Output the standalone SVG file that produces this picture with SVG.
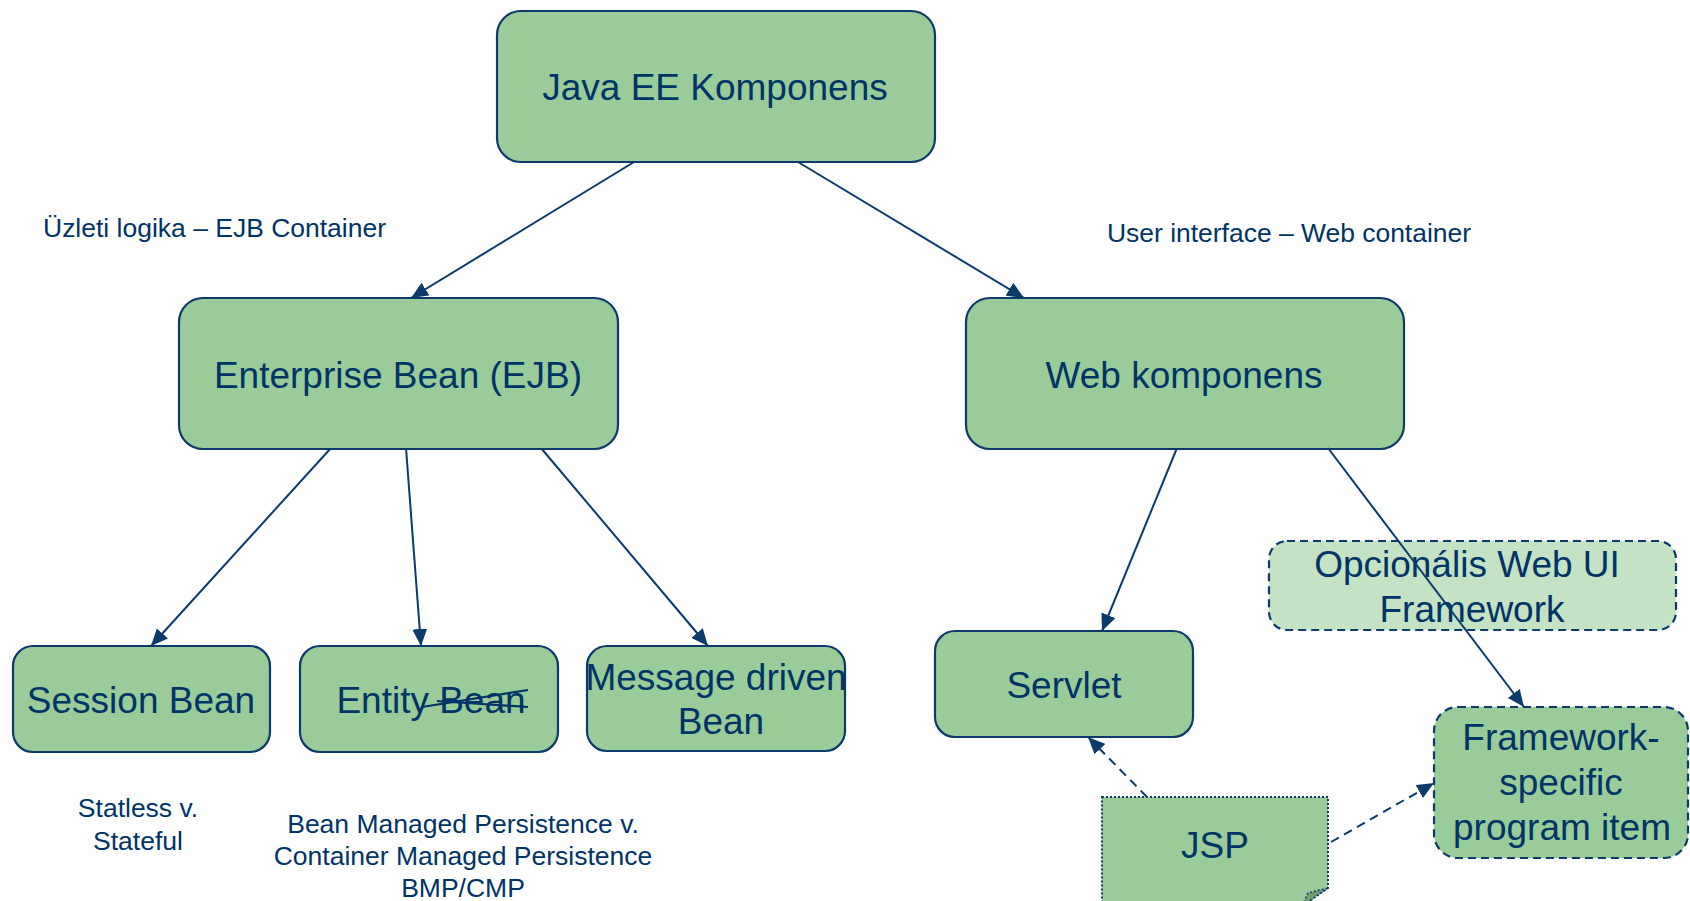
<svg xmlns="http://www.w3.org/2000/svg" width="1690" height="901" viewBox="0 0 1690 901">
<style>
.box{fill:#99CC99;stroke:#0B3A6B;stroke-width:2.2}
.opt{fill:#C4E2C4;stroke:#0B3A6B;stroke-width:2.2;stroke-dasharray:8 5}
.fw{fill:#99CC99;stroke:#0B3A6B;stroke-width:2.2;stroke-dasharray:8 5}
.note{fill:#99CC99;stroke:#0B3A6B;stroke-width:2;stroke-dasharray:2 2}
.big{font-family:"Liberation Sans",Arial,sans-serif;font-size:37px;fill:#003366;text-anchor:middle}
.small{font-family:"Liberation Sans",Arial,sans-serif;font-size:26.5px;fill:#003366;text-anchor:middle}
.lbl{font-family:"Liberation Sans",Arial,sans-serif;font-size:25px;fill:#003366}
.con{stroke:#0B3A6B;stroke-width:2;fill:none;marker-end:url(#arr)}
.dash{stroke:#0B3A6B;stroke-width:2;fill:none;stroke-dasharray:9 6;marker-end:url(#arr)}
</style>
<defs>
<marker id="arr" markerUnits="userSpaceOnUse" markerWidth="19" markerHeight="15" refX="17" refY="7.5" orient="auto">
<path d="M0,0 L17,7.5 L0,15 z" fill="#0B3A6B"/>
</marker>
</defs>
<g id="connectors">
<line class="con" x1="634" y1="162" x2="411" y2="298"/>
<line class="con" x1="798" y1="162" x2="1024" y2="298"/>
<line class="con" x1="331" y1="448" x2="151" y2="646"/>
<line class="con" x1="406" y1="448" x2="421" y2="646"/>
<line class="con" x1="541" y1="448" x2="708" y2="646"/>
<line class="con" x1="1177" y1="448" x2="1102" y2="631"/>
<line class="dash" x1="1147" y1="797" x2="1088" y2="737"/>
<line class="dash" x1="1331" y1="842" x2="1434" y2="783"/>
</g>
<g id="java-ee">
<rect class="box" x="497" y="11" width="438" height="151" rx="24"/>
<text class="big" x="715" y="100">Java EE Komponens</text>
</g>
<g id="label-ejb">
<text class="lbl" x="43" y="237" textLength="343" lengthAdjust="spacingAndGlyphs">Üzleti logika – EJB Container</text>
</g>
<g id="label-web">
<text class="lbl" x="1107" y="242" textLength="364" lengthAdjust="spacingAndGlyphs">User interface – Web container</text>
</g>
<g id="ejb">
<rect class="box" x="179" y="298" width="439" height="151" rx="24"/>
<text class="big" x="398" y="388">Enterprise Bean (EJB)</text>
</g>
<g id="web">
<rect class="box" x="966" y="298" width="438" height="151" rx="24"/>
<text class="big" x="1184" y="388">Web komponens</text>
</g>
<g id="session">
<rect class="box" x="13" y="646" width="257" height="106" rx="20"/>
<text class="big" x="141" y="713">Session Bean</text>
<text class="small" x="138" y="817">Statless v.</text>
<text class="small" x="138" y="850">Stateful</text>
</g>
<g id="entity">
<rect class="box" x="300" y="646" width="258" height="106" rx="20"/>
<text class="big" x="431" y="713">Entity Bean</text>
<path d="M422,707 L528,690 M437,701 L528,707" stroke="#003366" stroke-width="2.2" fill="none"/>
<text class="small" x="463" y="833">Bean Managed Persistence v.</text>
<text class="small" x="463" y="865">Container Managed Persistence</text>
<text class="small" x="463" y="897">BMP/CMP</text>
</g>
<g id="message">
<rect class="box" x="587" y="646" width="258" height="105" rx="20"/>
<text class="big" x="716" y="690">Message driven</text>
<text class="big" x="721" y="734">Bean</text>
</g>
<g id="servlet">
<rect class="box" x="935" y="631" width="258" height="106" rx="20"/>
<text class="big" x="1064" y="698">Servlet</text>
</g>
<g id="optional">
<rect class="opt" x="1269" y="541" width="407" height="89" rx="18"/>
<text class="big" x="1467" y="577">Opcionális Web UI</text>
<text class="big" x="1472" y="622">Framework</text>
</g>
<g id="framework-item">
<rect class="fw" x="1434" y="707" width="254" height="151" rx="24"/>
<text class="big" x="1561" y="750">Framework-</text>
<text class="big" x="1561" y="795">specific</text>
<text class="big" x="1562" y="840">program item</text>
</g>
<g id="jsp">
<path class="note" d="M1102,797 H1328 V888 L1302,906 H1102 Z"/>
<path d="M1328,888 L1302,906 L1308,893 Z" fill="#6F9E6F" stroke="#0B3A6B" stroke-width="1.5" stroke-dasharray="2 2"/>
<text class="big" x="1215" y="858">JSP</text>
</g>
<g id="connectors-top">
<line class="con" x1="1328" y1="448" x2="1524" y2="707"/>
</g>
</svg>
